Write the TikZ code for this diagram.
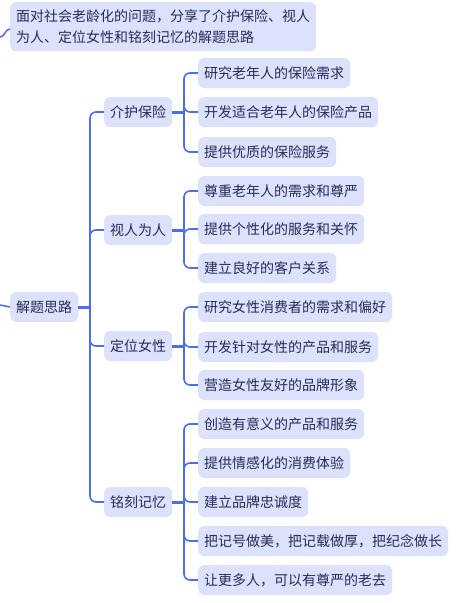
\documentclass[tikz,border=0pt]{standalone}
\usepackage{fontspec}
\setmainfont{Noto Sans CJK SC}
\definecolor{boxfill}{HTML}{DCE2FC}
\definecolor{linec}{HTML}{4A6CF6}
\definecolor{txt}{HTML}{252C5A}
\begin{document}
\begin{tikzpicture}[x=1pt,y=-1pt,
  topic/.style={fill=boxfill,text=txt,rounded corners=6pt,inner xsep=6pt,inner ysep=0pt,
    minimum height=30pt,font=\fontsize{14}{21}\selectfont,anchor=west},
  conn/.style={draw=linec,line width=1.6pt,rounded corners=6pt},
  thick conn/.style={draw=linec,line width=3pt}]
\useasboundingbox (0,0) rectangle (458,603);
% top note
\node[topic,anchor=north west,align=left,inner ysep=7.5pt] (note) at (10,2)
  {面对社会老龄化的问题，分享了介护保险、视人\\为人、定位女性和铭刻记忆的解题思路};
\coordinate (noteIn) at (0,37);
\draw[draw=linec,line width=1.5pt] (noteIn) to[out=0,in=180] (note.west|-0,29);
% root
\node[topic] (root) at (10,307) {解题思路};
\coordinate (rootIn) at (0,305);
\draw[draw=linec,line width=1.5pt] (rootIn) to[out=0,in=180] ([yshift=0pt]root.west);
% level 1
\node[topic] (a) at (104,112) {介护保险};
\node[topic] (b) at (104,230) {视人为人};
\node[topic] (c) at (104,346) {定位女性};
\node[topic] (d) at (104,502) {铭刻记忆};
\coordinate (t0) at (90,307);
\draw[thick conn] (root.east) -- (t0);
\foreach \n in {a,b,c,d} \draw[conn] (t0) |- (\n.west);
% level 2
\node[topic] (a1) at (198,73) {研究老年人的保险需求};
\node[topic] (a2) at (198,112) {开发适合老年人的保险产品};
\node[topic] (a3) at (198,152) {提供优质的保险服务};
\node[topic] (b1) at (198,191) {尊重老年人的需求和尊严};
\node[topic] (b2) at (198,229) {提供个性化的服务和关怀};
\node[topic] (b3) at (198,268) {建立良好的客户关系};
\node[topic] (c1) at (198,307) {研究女性消费者的需求和偏好};
\node[topic] (c2) at (198,347) {开发针对女性的产品和服务};
\node[topic] (c3) at (198,385) {营造女性友好的品牌形象};
\node[topic] (d1) at (198,424) {创造有意义的产品和服务};
\node[topic] (d2) at (198,463) {提供情感化的消费体验};
\node[topic] (d3) at (198,502) {建立品牌忠诚度};
\node[topic] (d4) at (198,541) {把记号做美，把记载做厚，把纪念做长};
\node[topic] (d5) at (198,580) {让更多人，可以有尊严的老去};
\coordinate (ta) at (184,112);
\coordinate (tb) at (184,230);
\coordinate (tc) at (184,346);
\coordinate (td) at (184,502);
\foreach \p in {a,b,c,d} \draw[thick conn] (\p.east) -- (t\p);
\foreach \p/\k in {a/1,a/2,a/3,b/1,b/2,b/3,c/1,c/2,c/3,d/1,d/2,d/3,d/4,d/5}
  \draw[conn] (t\p) |- (\p\k.west);
\end{tikzpicture}
\end{document}
